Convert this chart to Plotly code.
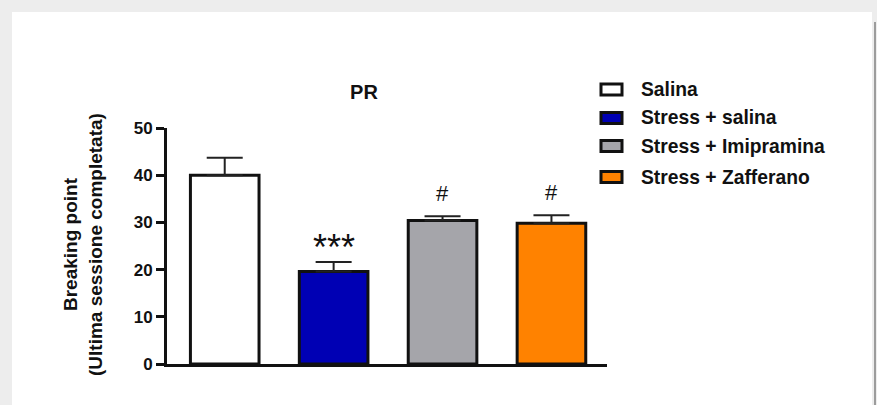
import plotly.graph_objects as go

# Breaking point per group (mean and upper SEM)
groups = ["Salina", "Stress + salina", "Stress + Imipramina", "Stress + Zafferano"]
means = [40.0, 19.6, 30.4, 29.8]
sem = [3.7, 2.0, 0.9, 1.7]
colors = ["#FFFFFF", "#0000B4", "#A5A5AA", "#FF8200"]
sig_labels = ["", "***", "#", "#"]
y_ticks = [0, 10, 20, 30, 40, 50]

FONT = "Liberation Sans, Arial, Helvetica, sans-serif"
W, H = 877, 405
L, R, T, B = 167, 270, 128, 41
PW, PH = W - L - R, H - T - B


def px(x, y):
    """Pixel position -> paper coordinates of the plot area."""
    return (x - L) / PW, (H - B - y) / PH


fig = go.Figure()
for i, g in enumerate(groups):
    fig.add_trace(go.Bar(
        x=[i], y=[means[i]], name=g, width=0.63,
        marker=dict(color=colors[i], line=dict(color="#111111", width=3)),
        error_y=dict(type="data", symmetric=False, array=[sem[i]], arrayminus=[0],
                     color="#222222", thickness=2, width=18),
        showlegend=False,
    ))

# significance marks above the error bars
for i, lab in enumerate(sig_labels):
    if not lab:
        continue
    big = lab.startswith("*")
    fig.add_annotation(
        x=i, y=means[i] + sem[i], xref="x", yref="y", text=lab, showarrow=False,
        yanchor="middle", yshift=15 if big else 23,
        font=dict(family=FONT, size=36 if big else 22, color="#111111"),
    )

shapes = []
# page card: light grey surround with a white panel and darker right edge
x0, y0 = px(12, 12)
x1, y1 = px(872, H)
shapes.append(dict(type="rect", xref="paper", yref="paper", x0=x0, y0=y1, x1=x1, y1=y0,
                   fillcolor="white", line=dict(width=0), layer="below"))
ex, ey0 = px(875, 22)
_, ey1 = px(875, H)
shapes.append(dict(type="line", xref="paper", yref="paper", x0=ex, x1=ex, y0=ey1, y1=ey0,
                   line=dict(color="#9c9c9c", width=2), layer="below"))

# legend swatches and labels
row_y = [89.5, 118, 146, 177]
for i, g in enumerate(groups):
    bx0, by0 = px(601, row_y[i] - 5.5)
    bx1, by1 = px(622, row_y[i] + 5.5)
    shapes.append(dict(type="rect", xref="paper", yref="paper", x0=bx0, x1=bx1, y0=by1, y1=by0,
                       fillcolor=colors[i], line=dict(color="#111111", width=3)))
    tx, ty = px(639, row_y[i])
    fig.add_annotation(x=tx, y=ty, xref="paper", yref="paper", text=g, showarrow=False,
                       xanchor="left", yanchor="middle",
                       font=dict(family=FONT, size=19.3, color="#111111", weight="bold"))

# y-axis title (two lines, rotated)
ax, ay = px(83, 245)
fig.add_annotation(x=ax, y=ay, xref="paper", yref="paper",
                   text="Breaking point<br>(Ultima sessione completata)", showarrow=False,
                   textangle=-90, xanchor="center", yanchor="middle",
                   font=dict(family=FONT, size=19, color="#111111", weight="bold"))

fig.update_layout(
    width=W, height=H,
    margin=dict(l=L, r=R, t=T, b=B, pad=0),
    paper_bgcolor="#EDEDED", plot_bgcolor="white",
    shapes=shapes, showlegend=False, bargap=0.35,
    title=dict(text="PR", x=px(364, 0)[0], xref="paper", xanchor="center",
               y=1 - 92 / H, yanchor="middle",
               font=dict(family=FONT, size=20, color="#111111", weight="bold")),
)
fig.update_xaxes(range=[-0.53, 3.51], showline=True, linecolor="#111111", linewidth=3,
                 showticklabels=False, ticks="", showgrid=False, zeroline=False, fixedrange=True)
fig.update_yaxes(range=[0, 50], tickvals=y_ticks, showline=True, linecolor="#111111", linewidth=3,
                 ticks="outside", ticklen=8, tickwidth=3, tickcolor="#111111",
                 tickfont=dict(family=FONT, size=17, color="#111111", weight="bold"),
                 showgrid=False, zeroline=False, fixedrange=True)

fig.write_html("out.html", config={"displayModeBar": False})
